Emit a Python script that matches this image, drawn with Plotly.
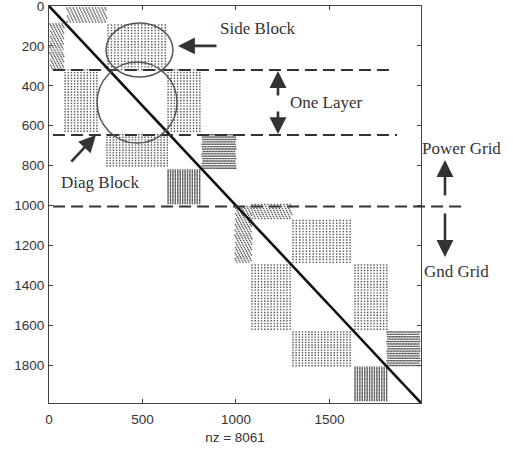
import numpy as np
import plotly.graph_objects as go

# ---- data: sparse matrix structure (spy plot) ----
n = 1989
nz_total = 8061
x_ticks = [0, 500, 1000, 1500]
y_ticks = [0, 200, 400, 600, 800, 1000, 1200, 1400, 1600, 1800]

# off-diagonal nonzero blocks: row range, column range, row step, column step, shear
block_r0 = [10, 90, 95, 320, 320, 645, 645, 822, 995, 1005, 1075, 1298, 1298, 1634, 1634, 1810]
block_r1 = [90, 320, 320, 640, 640, 812, 822, 995, 1075, 1290, 1290, 1634, 1634, 1810, 1810, 1985]
block_c0 = [96, 5, 316, 86, 637, 310, 819, 637, 1086, 995, 1305, 1086, 1637, 1305, 1808, 1637]
block_c1 = [310, 80, 635, 273, 819, 637, 1000, 819, 1300, 1086, 1627, 1300, 1808, 1627, 1985, 1808]
block_rstep = [10, 9, 14, 14, 14, 13, 12, 7, 10, 9, 14, 14, 14, 13, 12, 7]
block_cstep = [17, 16, 18, 17, 17, 17, 8, 13, 17, 16, 18, 17, 17, 17, 8, 13]
block_shear = [5, 5, 0, 0, 0, 0, 2, 0, 5, 5, 0, 0, 0, 0, 2, 0]

layer_rows = [321, 647]
grid_split_row = 1005

rows_all, cols_all = [], []
for r0, r1, c0, c1, rs, cs, sh in zip(block_r0, block_r1, block_c0, block_c1,
                                      block_rstep, block_cstep, block_shear):
    for k, r in enumerate(np.arange(r0, r1, rs)):
        off = (k * sh) % cs
        cols = np.arange(c0 + off, c1, cs)
        rows_all.extend([r] * len(cols))
        cols_all.extend(cols.tolist())

diag = np.arange(1, n + 1)

fig = go.Figure()
fig.add_trace(go.Scatter(
    x=cols_all, y=rows_all, mode="markers",
    marker=dict(symbol="square", size=1.4, color="#555555", line=dict(width=0)),
    hoverinfo="skip", showlegend=False))
fig.add_trace(go.Scatter(
    x=diag, y=diag, mode="lines",
    line=dict(color="#111111", width=2.6),
    hoverinfo="skip", showlegend=False))

ann_font = dict(family="Liberation Serif", size=17, color="#333333")
dash_style = dict(color="#333333", width=2, dash="12px,6px")

shapes = [
    dict(type="line", xref="x", yref="y", x0=21, x1=1840, y0=layer_rows[0], y1=layer_rows[0], line=dash_style),
    dict(type="line", xref="x", yref="y", x0=21, x1=1862, y0=layer_rows[1], y1=layer_rows[1], line=dash_style),
    dict(type="line", xref="paper", yref="y", x0=0.011, x1=1.11, y0=grid_split_row, y1=grid_split_row, line=dash_style),
    dict(type="circle", xref="x", yref="y", x0=305, x1=663, y0=85, y1=356,
         line=dict(color="#555555", width=1.5)),
    dict(type="circle", xref="x", yref="y", x0=257, x1=685, y0=281, y1=687,
         line=dict(color="#555555", width=1.5)),
]

arrow = dict(showarrow=True, arrowhead=2, arrowsize=1.3, arrowwidth=2.6,
             arrowcolor="#333333", text="", standoff=0)
annotations = [
    dict(text="Side Block", xref="x", yref="y", x=905, y=115, xanchor="left",
         showarrow=False, font=ann_font),
    dict(text="One Layer", xref="x", yref="y", x=1280, y=486, xanchor="left",
         showarrow=False, font=ann_font),
    dict(text="Power Grid", xref="paper", yref="y", x=0.997, y=712, xanchor="left",
         showarrow=False, font=ann_font),
    dict(text="Gnd Grid", xref="paper", yref="y", x=1.002, y=1333, xanchor="left",
         showarrow=False, font=ann_font),
    dict(text="Diag Block", xref="x", yref="y", x=55, y=887, xanchor="left",
         showarrow=False, font=ann_font),
    dict(xref="x", yref="y", x=690, y=200, ax=40, ay=0, **arrow),
    dict(xref="x", yref="y", x=1225, y=326, ax=0, ay=26, **arrow),
    dict(xref="x", yref="y", x=1225, y=642, ax=0, ay=-24, **arrow),
    dict(xref="paper", yref="y", x=1.0645, y=772, ax=0, ay=37, **arrow),
    dict(xref="paper", yref="y", x=1.0645, y=1258, ax=0, ay=-45, **arrow),
    dict(xref="x", yref="y", x=251, y=647, ax=-26, ay=28, **arrow),
]

tick_font = dict(family="Liberation Sans", size=13.5, color="#333333")
fig.update_layout(
    width=513, height=450,
    margin=dict(l=49, r=92, t=6, b=47, autoexpand=False),
    paper_bgcolor="white", plot_bgcolor="white",
    shapes=shapes, annotations=annotations,
    xaxis=dict(range=[0, n + 1], tickvals=x_ticks, ticks="inside", ticklen=4,
               tickcolor="#444444", showline=True, linecolor="#444444", linewidth=1,
               mirror="ticks", showgrid=False, zeroline=False, tickfont=tick_font,
               ticklabeloverflow="allow", automargin=False, ticklabelstandoff=4,
               title=dict(text="nz = %d" % nz_total, font=tick_font, standoff=6)),
    yaxis=dict(range=[n + 1, 0], tickvals=y_ticks, ticks="inside", ticklen=4,
               tickcolor="#444444", showline=True, linecolor="#444444", linewidth=1,
               mirror="ticks", showgrid=False, zeroline=False, tickfont=tick_font,
               ticklabeloverflow="allow", automargin=False, ticklabelstandoff=1),
)

fig.write_html("out.html", config={"displayModeBar": False},
               post_script="document.body.style.margin='0';")
